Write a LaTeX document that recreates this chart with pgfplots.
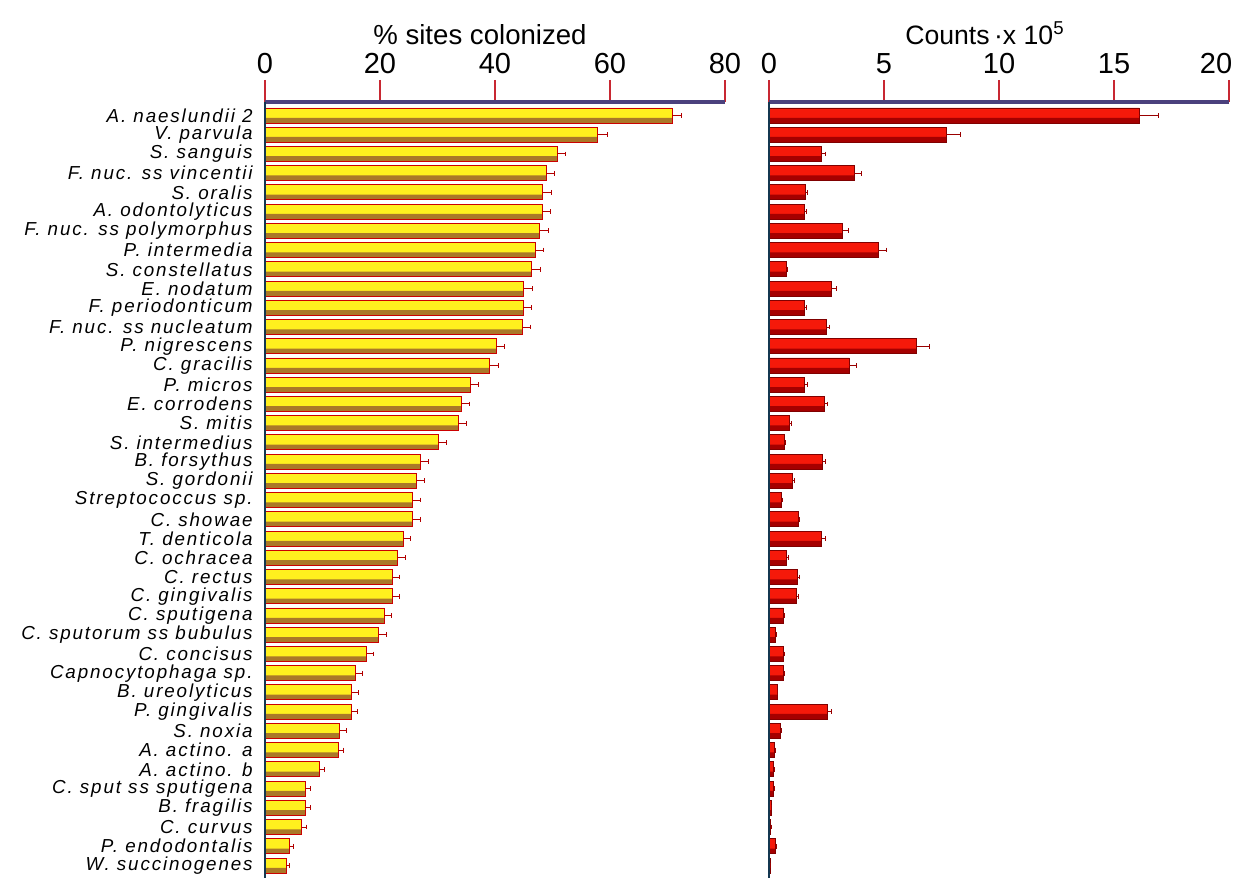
\documentclass[border=0pt]{standalone}
\usepackage{pgfplots}
\usepackage{pgfplotstable}
\pgfplotsset{compat=1.18}
\usepackage{fontspec}
\setmainfont{Liberation Sans}
\newfontfamily\labfont[LetterSpace=10]{Liberation Sans}
\definecolor{baryel}{RGB}{255,240,30}
\definecolor{barbrown}{RGB}{170,120,40}
\definecolor{barred}{RGB}{245,25,10}
\definecolor{bardred}{RGB}{165,0,0}
\definecolor{axnavy}{RGB}{75,65,125}
\definecolor{axteal}{RGB}{20,55,80}
\definecolor{tickred}{RGB}{200,40,50}

\pgfplotstableread{
i v e
1 70.8 1.7
2 57.9 1.6
3 50.8 1.5
4 48.9 1.5
5 48.3 1.5
6 48.2 1.5
7 47.8 1.5
8 47.0 1.5
9 46.4 1.5
10 45.0 1.5
11 44.9 1.5
12 44.7 1.5
13 40.2 1.5
14 39.1 1.5
15 35.7 1.5
16 34.1 1.5
17 33.6 1.5
18 30.1 1.4
19 27.1 1.4
20 26.3 1.4
21 25.7 1.4
22 25.7 1.4
23 24.0 1.3
24 23.1 1.3
25 22.1 1.3
26 22.1 1.3
27 20.7 1.3
28 19.8 1.3
29 17.7 1.2
30 15.8 1.1
31 15.1 1.1
32 15.0 1.1
33 13.0 1.1
34 12.7 1.0
35 9.4 0.9
36 7.1 0.8
37 7.1 0.8
38 6.4 0.8
39 4.3 0.6
40 3.7 0.6
}\leftdata

\pgfplotstableread{
i v e
1 16.1 0.85
2 7.7 0.6
3 2.3 0.15
4 3.7 0.3
5 1.58 0.1
6 1.52 0.1
7 3.2 0.25
8 4.74 0.35
9 0.75 0.05
10 2.71 0.2
11 1.53 0.1
12 2.48 0.15
13 6.42 0.55
14 3.49 0.3
15 1.55 0.1
16 2.4 0.15
17 0.88 0.1
18 0.67 0.05
19 2.32 0.15
20 1.0 0.1
21 0.52 0.05
22 1.26 0.08
23 2.3 0.15
24 0.78 0.05
25 1.22 0.08
26 1.2 0.08
27 0.64 0.05
28 0.3 0.03
29 0.63 0.05
30 0.62 0.05
31 0.35 0.03
32 2.53 0.2
33 0.48 0.05
34 0.25 0.03
35 0.2 0.02
36 0.2 0.02
37 0.1 0.02
38 0.08 0.02
39 0.3 0.03
40 0.05 0.01
}\rightdata

\pgfplotsset{
  panel/.style={
    scale only axis, width=230pt, height=388pt,
    anchor=south west,
    ymin=0.3, ymax=40.65, y dir=reverse,
    axis x line*=top, axis y line*=left,
    x axis line style={line width=2.4pt, draw=axnavy},
    y axis line style={line width=1.2pt, draw=axteal},
    tick align=outside, major tick length=11pt,
    xtick style={draw=tickred, line width=0.6pt},
    ytick style={draw=none},
    xticklabel style={font=\fontsize{14.5}{15}\selectfont, inner sep=1pt, yshift=2pt},
    /pgf/number format/assume math mode=true,
    ytick={1,...,40},
    clip=false,
    axis on top,
  },
}

\begin{document}
\begin{tikzpicture}
\path[use as bounding box] (0,0) rectangle (618.5pt,439pt);

\begin{axis}[panel,
  at={(132.5pt,0pt)},
  xmin=0, xmax=80, xtick={0,20,40,60,80},
  yticklabel style={font=\labfont\itshape\fontsize{9.4}{10}\selectfont, xshift=6pt, inner sep=1pt},
  yticklabels={{A. naeslundii 2},{V. parvula},{S. sanguis},{F. nuc. ss vincentii},{S. oralis},{A. odontolyticus},{F. nuc. ss polymorphus},{P. intermedia},{S. constellatus},{E. nodatum},{F. periodonticum},{F. nuc. ss nucleatum},{P. nigrescens},{C. gracilis},{P. micros},{E. corrodens},{S. mitis},{S. intermedius},{B. forsythus},{S. gordonii},{Streptococcus sp.},{C. showae},{T. denticola},{C. ochracea},{C. rectus},{C. gingivalis},{C. sputigena},{C. sputorum ss bubulus},{C. concisus},{Capnocytophaga sp.},{B. ureolyticus},{P. gingivalis},{S. noxia},{A. actino. a},{A. actino. b},{C. sput ss sputigena},{B. fragilis},{C. curvus},{P. endodontalis},{W. succinogenes}},
]
\addplot[xbar, bar width=0.78, bar shift=0, draw=none, fill=baryel]
  table[x=v, y=i] {\leftdata};
\addplot[xbar, bar width=0.27, bar shift=0.255, draw=none, fill=barbrown]
  table[x=v, y=i] {\leftdata};
\addplot[xbar, bar width=0.78, bar shift=0, draw=red!80!black, line width=0.45pt, fill=none,
  error bars/.cd, x dir=plus, x explicit,
  error bar style={draw=red!70!black, line width=0.5pt},
  error mark options={draw=red!70!black, mark size=1.2pt, rotate=90}]
  table[x=v, y=i, x error=e] {\leftdata};
\end{axis}

\begin{axis}[panel,
  at={(384.5pt,0pt)},
  xmin=0, xmax=20, xtick={0,5,10,15,20},
  xticklabels={0,5,10,15,{\hspace*{-13pt}20}},
  yticklabels={},
]
\addplot[xbar, bar width=0.78, bar shift=0, draw=none, fill=barred]
  table[x=v, y=i] {\rightdata};
\addplot[xbar, bar width=0.27, bar shift=0.255, draw=none, fill=bardred]
  table[x=v, y=i] {\rightdata};
\addplot[xbar, bar width=0.78, bar shift=0, draw=red!50!black, line width=0.45pt, fill=none,
  error bars/.cd, x dir=plus, x explicit,
  error bar style={draw=red!60!black, line width=0.5pt},
  error mark options={draw=red!60!black, mark size=1.2pt, rotate=90}]
  table[x=v, y=i, x error=e] {\rightdata};
\end{axis}

\node[anchor=base, font=\fontsize{13.8}{14}\selectfont] at (240pt,416.5pt) {\% sites colonized};
\node[anchor=base, font=\fontsize{13.3}{14}\selectfont] at (492.5pt,416.5pt) {Counts\,·x 10\textsuperscript{5}};
\end{tikzpicture}
\end{document}
